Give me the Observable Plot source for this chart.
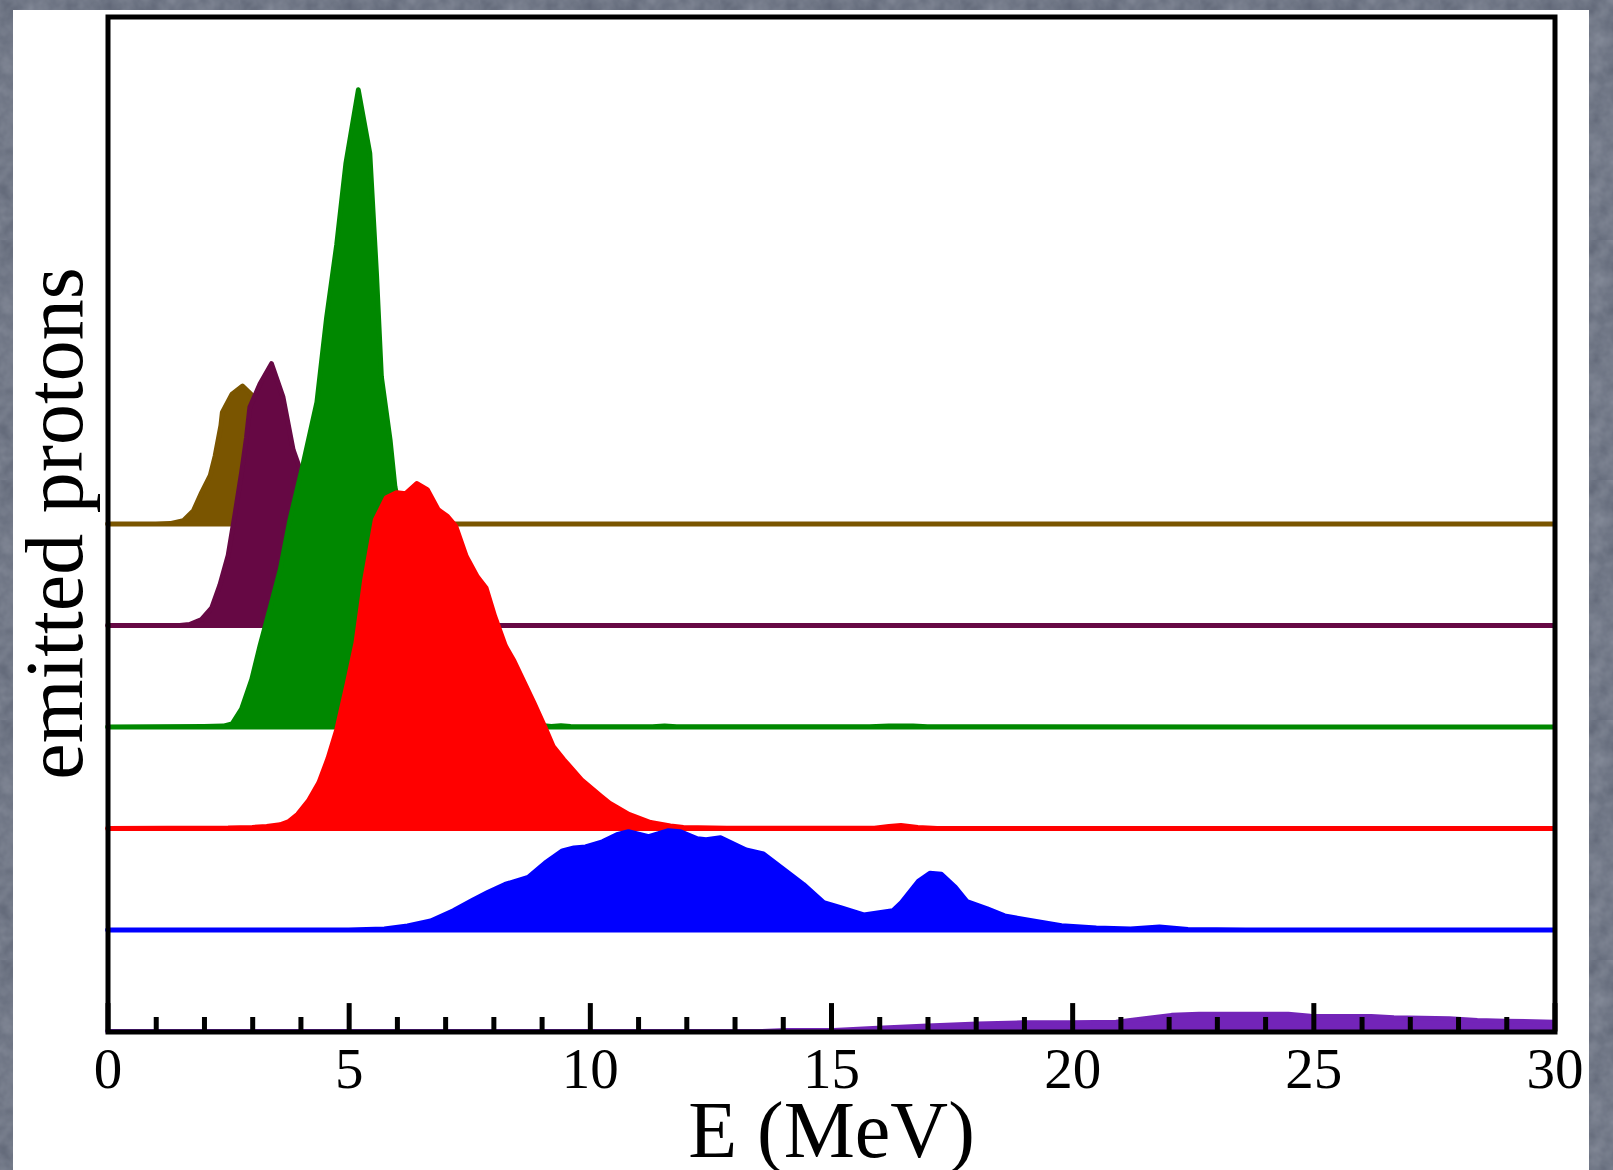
<!DOCTYPE html>
<html>
<head>
<meta charset="utf-8">
<script src="https://cdn.jsdelivr.net/npm/d3@7"></script>
<script src="https://cdn.jsdelivr.net/npm/@observablehq/plot@0.6"></script>
<style>
  html, body { margin: 0; padding: 0; }
  body {
    width: 1613px; height: 1170px; overflow: hidden;
    background-color: #5d6474;
    background-image: url("data:image/svg+xml,%3Csvg xmlns='http://www.w3.org/2000/svg' width='240' height='240'%3E%3Cfilter id='n'%3E%3CfeTurbulence type='fractalNoise' baseFrequency='0.06' numOctaves='3' seed='4'/%3E%3CfeColorMatrix values='0 0 0 0 0.5 0 0 0 0 0.53 0 0 0 0 0.6 0 0 0 0.45 0'/%3E%3C/filter%3E%3Crect width='100%25' height='100%25' filter='url(%23n)'/%3E%3C/svg%3E");
  }
  #panel { position: absolute; left: 13px; top: 10px; width: 1576px; height: 1160px; background: #ffffff; }
</style>
</head>
<body>
<div id="panel"></div>
<script>
// Proton energy spectra, stacked with a vertical offset of one unit each.
// Each spectrum is a list of [E (MeV), yield] points.
const energyTicks = [0, 5, 10, 15, 20, 25, 30];
const minorTicks = d3.range(1, 30).filter(e => e % 5 !== 0);

const offsets = [5, 4, 3, 2, 1, 0];
const colors = ["#7a5500", "#660844", "#008800", "#ff0000", "#0000ff", "#7324b8"];

const spectrumBrown = [
  [0, 0], [1.0, 0], [1.3, 0.005], [1.57, 0.033], [1.78, 0.13], [1.95, 0.31], [2.13, 0.48],
  [2.23, 0.67], [2.35, 0.97], [2.38, 1.10], [2.58, 1.28], [2.80, 1.36], [3.02, 1.26],
  [3.3, 1.0], [3.6, 0.6], [4.0, 0.25], [4.5, 0.06], [5.0, 0.01], [6.0, 0], [30, 0]
];

const spectrumPurple = [
  [0, 0], [1.5, 0], [1.7, 0.01], [1.95, 0.06], [2.16, 0.175], [2.33, 0.40], [2.50, 0.69],
  [2.64, 1.09], [2.78, 1.51], [2.88, 1.85], [2.95, 2.15], [3.16, 2.38], [3.40, 2.58],
  [3.64, 2.25], [3.85, 1.73], [4.03, 1.49], [4.3, 1.0], [4.6, 0.55], [5.0, 0.2],
  [5.5, 0.05], [6.0, 0.01], [6.5, 0], [30, 0]
];

const spectrumGreen = [
  [0, 0], [2.0, 0.005], [2.4, 0.01], [2.58, 0.03], [2.78, 0.18], [2.99, 0.47], [3.16, 0.80],
  [3.37, 1.17], [3.58, 1.55], [3.78, 2.04], [4.03, 2.54], [4.34, 3.20], [4.54, 4.03],
  [4.75, 4.75], [4.94, 5.55], [5.20, 6.28], [5.44, 5.65], [5.58, 4.45], [5.68, 3.45],
  [5.86, 2.83], [5.96, 2.37], [6.2, 1.8], [6.5, 1.2], [7.0, 0.55], [7.5, 0.25], [8.0, 0.1],
  [8.5, 0.04], [9.0, 0.015], [9.2, 0.005], [9.4, 0.014], [9.6, 0.005], [11.3, 0.003],
  [11.55, 0.012], [11.8, 0.003], [15.8, 0.003], [16.2, 0.012], [16.7, 0.012], [17.0, 0.003],
  [30, 0]
];

const spectrumRed = [
  [0, 0], [2.5, 0.005], [3.0, 0.012], [3.3, 0.02], [3.58, 0.037], [3.76, 0.07], [3.94, 0.14],
  [4.16, 0.27], [4.38, 0.45], [4.57, 0.69], [4.75, 0.97], [4.97, 1.43], [5.15, 1.83],
  [5.33, 2.45], [5.55, 3.04], [5.78, 3.26], [6.00, 3.31], [6.18, 3.30], [6.41, 3.40],
  [6.63, 3.34], [6.86, 3.14], [7.04, 3.08], [7.22, 2.98], [7.44, 2.68], [7.67, 2.48],
  [7.85, 2.37], [8.03, 2.09], [8.25, 1.80], [8.43, 1.65], [8.84, 1.24], [9.06, 1.01],
  [9.24, 0.81], [9.46, 0.68], [9.83, 0.48], [10.23, 0.32], [10.41, 0.25], [10.81, 0.14],
  [11.26, 0.06], [11.67, 0.027], [11.94, 0.01], [12.84, 0.003], [15.9, 0.003],
  [16.2, 0.02], [16.45, 0.03], [16.8, 0.012], [17.2, 0.002], [30, 0]
];

const spectrumBlue = [
  [0, 0], [5.0, 0], [5.74, 0.01], [6.22, 0.04], [6.70, 0.09], [7.17, 0.19], [7.59, 0.30],
  [7.88, 0.37], [8.24, 0.45], [8.72, 0.52], [9.07, 0.66], [9.43, 0.78], [9.67, 0.81],
  [9.91, 0.82], [10.26, 0.87], [10.56, 0.94], [10.80, 0.97], [11.22, 0.92], [11.63, 0.98],
  [11.87, 0.97], [12.23, 0.90], [12.41, 0.89], [12.71, 0.91], [13.24, 0.79], [13.60, 0.75],
  [14.07, 0.58], [14.43, 0.45], [14.85, 0.27], [15.20, 0.22], [15.68, 0.15], [16.28, 0.19],
  [16.46, 0.27], [16.81, 0.48], [17.05, 0.56], [17.29, 0.55], [17.58, 0.42], [17.82, 0.28],
  [18.24, 0.21], [18.60, 0.14], [19.07, 0.10], [19.78, 0.044], [20.50, 0.021],
  [21.21, 0.011], [21.81, 0.031], [22.40, 0.005], [23.6, 0.002], [25, 0], [30, 0]
];

const spectrumViolet = [
  [0, 0], [13.5, 0], [14.07, 0.01], [15.05, 0.012], [15.97, 0.034], [17.0, 0.054],
  [18.04, 0.074], [18.96, 0.086], [20.0, 0.086], [20.91, 0.093], [21.5, 0.126],
  [22.06, 0.16], [22.63, 0.17], [24.02, 0.17], [24.48, 0.172], [24.94, 0.152],
  [26.2, 0.149], [26.67, 0.136], [27.82, 0.126], [28.4, 0.11], [28.97, 0.103], [30, 0.093]
];

const spectra = [spectrumBrown, spectrumPurple, spectrumGreen, spectrumRed, spectrumBlue, spectrumViolet];

const serif = "'Liberation Serif', 'Times New Roman', Times, serif";

// Filled, outlined curves sitting on their offset baselines; drawn top row first.
const curves = spectra.map((points, i) =>
  Plot.areaY(
    points.map(([e, n]) => ({e, base: offsets[i], top: offsets[i] + n})),
    {x: "e", y1: "base", y2: "top", fill: colors[i], stroke: colors[i], strokeWidth: 4.8}
  )
);

const chart = Plot.plot({
  width: 1576,
  height: 1160,
  marginLeft: 94.5,
  marginRight: 34.5,
  marginTop: 6.5,
  marginBottom: 138.5,
  style: {background: "#ffffff", color: "#000000", fontFamily: serif, overflow: "visible"},
  x: {domain: [0, 30], label: null},
  y: {domain: [0, 10], axis: null},
  marks: [
    ...curves,
    // inward ticks on the energy axis
    Plot.ruleX(minorTicks, {x: d => d, y1: 0, y2: 0.143, stroke: "#000", strokeWidth: 5}),
    Plot.ruleX(energyTicks, {x: d => d, y1: 0, y2: 0.28, stroke: "#000", strokeWidth: 5}),
    Plot.axisX(energyTicks, {
      tickSize: 0, tickPadding: 16, fontSize: 57, fontFamily: serif,
      tickFormat: d => String(d), label: null, fill: "#000"
    }),
    Plot.text(["E (MeV)"], {
      text: d => d, frameAnchor: "bottom", lineAnchor: "bottom", dy: 124.5,
      fontSize: 80, fontFamily: serif, fill: "#000"
    }),
    Plot.text(["emitted protons"], {
      text: d => d, frameAnchor: "left", textAnchor: "middle", lineAnchor: "bottom", rotate: -90,
      dx: -26.5, dy: -1, fontSize: 82, fontFamily: serif, fill: "#000"
    }),
    Plot.frame({stroke: "#000", strokeWidth: 5})
  ]
});

document.getElementById("panel").appendChild(chart);
</script>
</body>
</html>
